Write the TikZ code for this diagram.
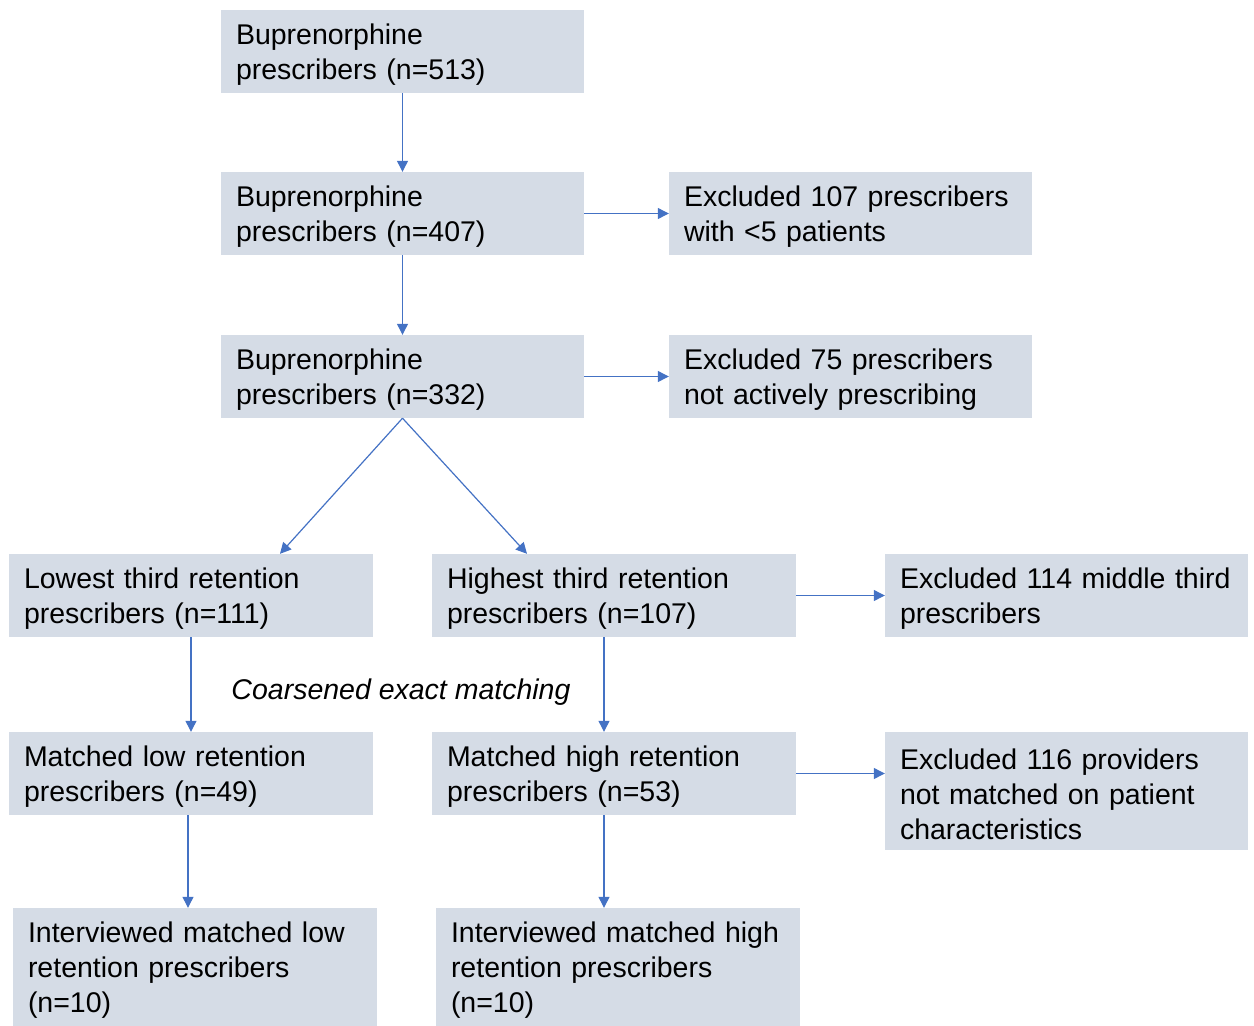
\documentclass[tikz,border=0pt]{standalone}
\usepackage{fontspec}
\setmainfont{Liberation Sans}
\usetikzlibrary{arrows.meta}
\definecolor{boxfill}{HTML}{D5DCE6}
\definecolor{arrowblue}{HTML}{4472C4}
\tikzset{
  box/.style={rectangle, fill=boxfill, draw=none, inner xsep=15pt, inner ysep=0pt,
    align=left, font=\fontsize{28.5}{35}\selectfont, text=black,
    execute at begin node={\rule{0pt}{27pt}}},
  box2/.style={box, minimum height=83pt},
  box3/.style={box, minimum height=118pt},
  conn/.style={draw=arrowblue, line width=1.2pt, -{Triangle[length=11pt,width=11pt]}}
}
\begin{document}
\begin{tikzpicture}[x=1pt,y=-1pt]
\useasboundingbox (0,0) rectangle (1254,1026);
\node[box2, text width=333pt] (A) at (402.5,51.5) {Buprenorphine\\prescribers (n=513)};
\node[box2, text width=333pt] (B) at (402.5,213.5) {Buprenorphine\\prescribers (n=407)};
\node[box2, text width=333pt] (C) at (402.5,376.5) {Buprenorphine\\prescribers (n=332)};
\node[box2, text width=333pt] (E1) at (850.5,213.5) {Excluded 107 prescribers\\with <5 patients};
\node[box2, text width=333pt] (E2) at (850.5,376.5) {Excluded 75 prescribers\\not actively prescribing};
\node[box2, text width=334pt] (L) at (191,595.5) {Lowest third retention\\prescribers (n=111)};
\node[box2, text width=334pt] (H) at (614,595.5) {Highest third retention\\prescribers (n=107)};
\node[box2, text width=333pt] (E3) at (1066.5,595.5) {Excluded 114 middle third\\prescribers};
\node[box2, text width=334pt] (ML) at (191,773.5) {Matched low retention\\prescribers (n=49)};
\node[box2, text width=334pt] (MH) at (614,773.5) {Matched high retention\\prescribers (n=53)};
\node[box3, text width=333pt] (E4) at (1066.5,791) {Excluded 116 providers\\not matched on patient\\characteristics};
\node[box3, text width=334pt] (IL) at (195,967) {Interviewed matched low\\retention prescribers\\(n=10)};
\node[box3, text width=334pt] (IH) at (618,967) {Interviewed matched high\\retention prescribers\\(n=10)};
\node[font=\fontsize{28.5}{35}\selectfont\itshape, inner sep=0pt] (cem) at (401,692) {Coarsened exact matching};
\draw[conn] (A.south) -- (B.north);
\draw[conn] (B.south) -- (C.north);
\draw[conn] (B.east) -- (E1.west);
\draw[conn] (C.east) -- (E2.west);
\draw[conn] (C.south) -- ([xshift=89pt]L.north);
\draw[conn] (C.south) -- ([xshift=-87pt]H.north);
\draw[conn] (L.south) -- (ML.north);
\draw[conn] ([xshift=-10pt]H.south) -- ([xshift=-10pt]H.south |- MH.north);
\draw[conn] (H.east) -- (E3.west);
\draw[conn] (MH.east) -- (MH.east -| E4.west);
\draw[conn] ([xshift=-3pt]ML.south) -- ([xshift=-3pt]ML.south |- IL.north);
\draw[conn] ([xshift=-10pt]MH.south) -- ([xshift=-10pt]MH.south |- IH.north);
\end{tikzpicture}
\end{document}
